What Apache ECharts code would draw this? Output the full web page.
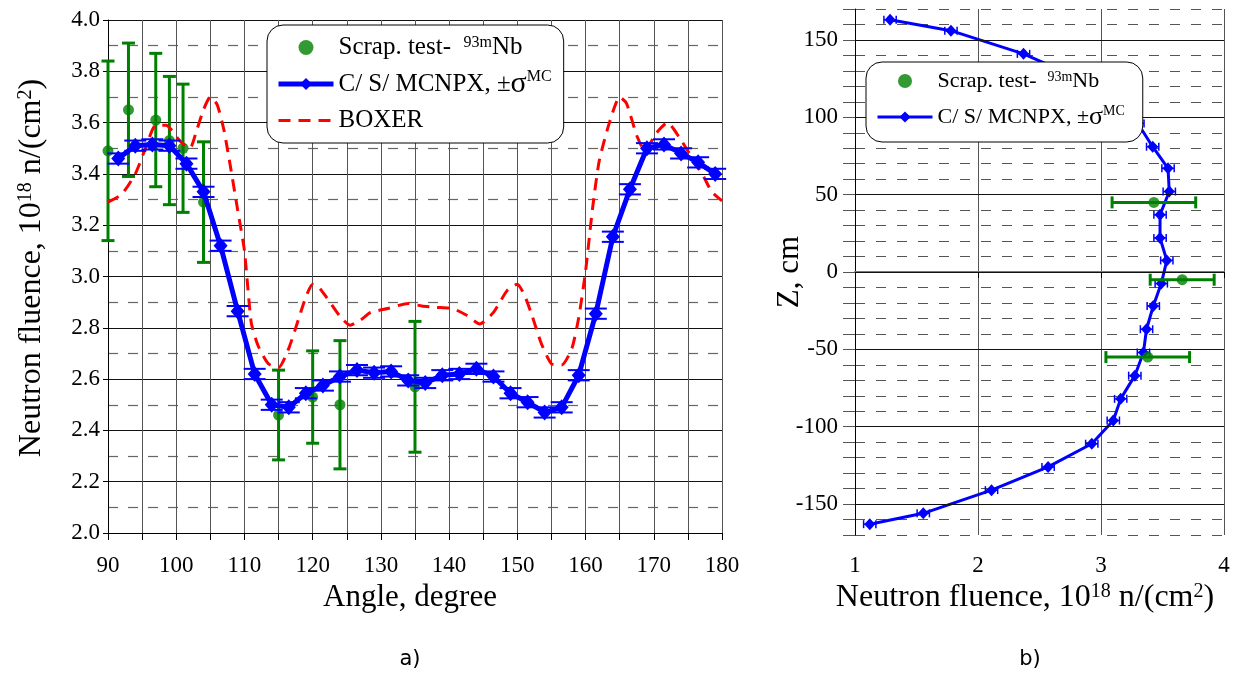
<!DOCTYPE html>
<html lang="en">
<head>
<meta charset="UTF-8">
<title>Neutron fluence</title>
<script src="https://cdn.jsdelivr.net/npm/echarts@6/dist/echarts.min.js"></script>
<style>
  body { margin: 0; background: #fff; }
  #chart { width: 1236px; height: 673px; }
</style>
</head>
<body>
<div id="chart"></div>
<script>
  // a) fluence vs angle
  const mcAngle = [91.5, 94, 96.5, 99, 101.5, 104, 106.5, 109, 111.5, 114, 116.5, 119,
    121.5, 124, 126.5, 129, 131.5, 134, 136.5, 139, 141.5, 144, 146.5, 149,
    151.5, 154, 156.5, 159, 161.5, 164, 166.5, 169, 171.5, 174, 176.5, 179];
  const mcFluence = [3.46, 3.51, 3.515, 3.51, 3.44, 3.33, 3.12, 2.865, 2.62, 2.50, 2.49, 2.545,
    2.575, 2.61, 2.635, 2.625, 2.63, 2.595, 2.585, 2.615, 2.62, 2.64, 2.61, 2.545,
    2.51, 2.47, 2.49, 2.615, 2.855, 3.155, 3.34, 3.50, 3.515, 3.48, 3.445, 3.40];
  const mcErr = 0.02;

  const scrapAngle = [90, 93, 97, 99, 101, 104, 115, 120, 124, 135];
  const scrapFluence = [3.49, 3.65, 3.61, 3.53, 3.50, 3.29, 2.46, 2.53, 2.50, 2.57];
  const scrapErr = [0.35, 0.26, 0.26, 0.25, 0.25, 0.235, 0.175, 0.18, 0.25, 0.255];

  const boxerAngle = [90, 92, 94, 95.5, 97, 98.5, 100.5, 102, 103, 104, 105, 106, 107, 108, 109, 110,
    111, 112, 113.5, 115, 116.5, 118, 119, 120, 121, 122, 124, 125.5, 127, 128.5, 131, 134,
    136, 138, 140.5, 142.5, 144.5, 146.5, 148.5, 150, 151, 152, 153.5, 155, 156.5, 158, 159,
    160, 161, 162, 163.5, 165, 166, 167.5, 168.7, 170.4, 172, 173.8, 175.8, 177.3, 178.5, 180];
  const boxerFluence = [3.29, 3.32, 3.40, 3.50, 3.59, 3.59, 3.53, 3.50, 3.57, 3.65, 3.70, 3.67, 3.57, 3.42, 3.26, 3.10,
    2.82, 2.73, 2.66, 2.645, 2.72, 2.84, 2.92, 2.97, 2.955, 2.92, 2.845, 2.81, 2.83, 2.86, 2.875, 2.895,
    2.885, 2.88, 2.875, 2.85, 2.815, 2.86, 2.945, 2.97, 2.93, 2.86, 2.74, 2.66, 2.655, 2.72, 2.84,
    3.02, 3.26, 3.45, 3.60, 3.70, 3.675, 3.55, 3.49, 3.56, 3.60, 3.54, 3.455, 3.39, 3.33, 3.295];

  // b) fluence vs Z
  const zPos = [163, 156, 141, 126, 111, 96, 81, 67, 52, 37, 22, 7.5,
    -7.5, -22, -37, -52, -67, -82, -96, -111, -126, -141, -156, -163];
  const zFluence = [1.285, 1.78, 2.37, 2.80, 3.10, 3.30, 3.42, 3.545, 3.555, 3.48, 3.48, 3.535,
    3.49, 3.425, 3.37, 3.345, 3.275, 3.16, 3.10, 2.925, 2.57, 2.11, 1.555, 1.12];
  const zErr = 0.05;

  const scrapZ = [45, -5, -55];
  const scrapZFluence = [3.43, 3.66, 3.38];
  const scrapZErr = [0.34, 0.26, 0.34];

  const zMajor = [-150, -100, -50, 0, 50, 100, 150];

  const serif = "'Liberation Serif', 'Times New Roman', serif";
  const names = {
    scrapA: 'Scrap. test-  {sup|93m}Nb',
    scrapB: 'Scrap. test-  {sup|93m}Nb',
    mcA: 'C/ S/ MCNPX, ±{sig|σ}{sup|MC}',
    mcB: 'C/ S/ MCNPX, ±{sig|σ}{sup|MC}',
    boxer: 'BOXER'
  };

  function vErrBar(capW, color, width) {
    return function (params, api) {
      const x = api.value(0), y = api.value(1), e = api.value(2);
      const top = api.coord([x, y + e]);
      const bot = api.coord([x, y - e]);
      const st = { stroke: color, lineWidth: width };
      return {
        type: 'group', children: [
          { type: 'line', shape: { x1: top[0], y1: top[1], x2: bot[0], y2: bot[1] }, style: st },
          { type: 'line', shape: { x1: top[0] - capW / 2, y1: top[1], x2: top[0] + capW / 2, y2: top[1] }, style: st },
          { type: 'line', shape: { x1: bot[0] - capW / 2, y1: bot[1], x2: bot[0] + capW / 2, y2: bot[1] }, style: st }
        ]
      };
    };
  }

  function hErrBar(capH, color, width) {
    return function (params, api) {
      const x = api.value(0), y = api.value(1), e = api.value(2);
      const l = api.coord([x - e, y]);
      const r = api.coord([x + e, y]);
      const st = { stroke: color, lineWidth: width };
      return {
        type: 'group', children: [
          { type: 'line', shape: { x1: l[0], y1: l[1], x2: r[0], y2: r[1] }, style: st },
          { type: 'line', shape: { x1: l[0], y1: l[1] - capH / 2, x2: l[0], y2: l[1] + capH / 2 }, style: st },
          { type: 'line', shape: { x1: r[0], y1: r[1] - capH / 2, x2: r[0], y2: r[1] + capH / 2 }, style: st }
        ]
      };
    };
  }

  function legendRich(size) {
    return {
      sup: { fontFamily: serif, fontSize: Math.round(size * 0.62), color: '#000', verticalAlign: 'top', lineHeight: Math.round(size * 0.62) },
      sig: { fontFamily: serif, fontSize: Math.round(size * 1.2), color: '#000' }
    };
  }

  const axisTitleRich = { sup: { fontFamily: serif, fontSize: 20, fill: '#000', verticalAlign: 'top', lineHeight: 20 } };

  let myChart = echarts.init(document.getElementById('chart'));

  let option = {
    animation: false,
    backgroundColor: '#fff',
    grid: [
      { left: 108, top: 20, width: 614, height: 513 },
      { left: 855, top: 9, width: 369, height: 526 }
    ],
    xAxis: [
      {
        type: 'value', gridIndex: 0, min: 90, max: 180, interval: 10,
        axisLine: { lineStyle: { color: '#000', width: 1 } },
        axisTick: { length: 7, lineStyle: { color: '#000' } },
        minorTick: { show: true, splitNumber: 2, length: 7, lineStyle: { color: '#000' } },
        splitLine: { lineStyle: { color: '#555', width: 1 } },
        minorSplitLine: { show: true, lineStyle: { color: '#555', width: 1 } },
        axisLabel: { fontFamily: serif, fontSize: 23, color: '#000', margin: 21 }
      },
      {
        type: 'value', gridIndex: 1, min: 1, max: 4, interval: 1,
        axisLine: { lineStyle: { color: '#777', width: 2 } },
        axisTick: { length: 6, lineStyle: { color: '#000' } },
        splitLine: { lineStyle: { color: '#555', width: 1 } },
        axisLabel: { fontFamily: serif, fontSize: 23, color: '#000', margin: 19 }
      }
    ],
    yAxis: [
      {
        type: 'value', gridIndex: 0, min: 2, max: 4, interval: 0.2,
        axisLine: { lineStyle: { color: '#000' } },
        axisTick: { length: 5, lineStyle: { color: '#000' } },
        minorTick: { show: false, splitNumber: 2 },
        splitLine: { lineStyle: { color: '#111', width: 1 } },
        minorSplitLine: { show: true, lineStyle: { color: '#666', width: 1.2, type: [10, 10] } },
        axisLabel: {
          fontFamily: serif, fontSize: 23, color: '#000', margin: 8,
          formatter: function (v) { return v.toFixed(1); }
        }
      },
      {
        type: 'value', gridIndex: 1, min: -170, max: 170, interval: 10,
        axisLine: { lineStyle: { color: '#000' } },
        axisTick: { length: 12, lineStyle: { color: '#555' } },
        splitLine: { lineStyle: { color: '#555', width: 1.2, type: [10, 11] } },
        axisLabel: {
          fontFamily: serif, fontSize: 23, color: '#000', margin: 17,
          formatter: function (v) { return v % 50 === 0 ? String(v) : ''; }
        }
      }
    ],
    legend: [
      {
        data: [
          { name: 'scrapA' },
          { name: 'mcA', lineStyle: { width: 5 } },
          { name: 'boxer', itemStyle: { opacity: 0 }, lineStyle: { width: 3, type: [12, 8] } }
        ],
        orient: 'vertical', left: 267, top: 25, z: 20,
        padding: [10, 12, 10, 9], itemGap: 9, itemWidth: 55, itemHeight: 15,
        borderColor: '#000', borderWidth: 1, borderRadius: 16, backgroundColor: '#fff',
        selectedMode: false,
        textStyle: { fontFamily: serif, fontSize: 25, color: '#000', rich: legendRich(25) },
        formatter: function (n) { return names[n]; }
      },
      {
        data: [
          { name: 'scrapB' },
          { name: 'mcB', lineStyle: { width: 3 } }
        ],
        orient: 'vertical', left: 866, top: 62, z: 20,
        padding: [8, 18, 12, 10], itemGap: 12, itemWidth: 55, itemHeight: 14,
        borderColor: '#000', borderWidth: 1, borderRadius: 16, backgroundColor: '#fff',
        selectedMode: false,
        textStyle: { fontFamily: serif, fontSize: 22, color: '#000', rich: legendRich(22) },
        formatter: function (n) { return names[n]; }
      }
    ],
    graphic: [
      {
        type: 'text', x: 32, y: 268, rotation: Math.PI / 2,
        style: {
          text: 'Neutron fluence, 10{sup|18} n/(cm{sup|2})', fontFamily: serif, fontSize: 32, fill: '#000',
          align: 'center', verticalAlign: 'middle', rich: axisTitleRich
        }
      },
      {
        type: 'text', x: 410, y: 598,
        style: { text: 'Angle, degree', fontFamily: serif, fontSize: 31, fill: '#000', align: 'center', verticalAlign: 'middle' }
      },
      {
        type: 'text', x: 1025, y: 598,
        style: {
          text: 'Neutron fluence, 10{sup|18} n/(cm{sup|2})', fontFamily: serif, fontSize: 32, fill: '#000',
          align: 'center', verticalAlign: 'middle', rich: axisTitleRich
        }
      },
      {
        type: 'text', x: 790, y: 272, rotation: Math.PI / 2,
        style: { text: 'Z, cm', fontFamily: serif, fontSize: 31, fill: '#000', align: 'center', verticalAlign: 'middle' }
      },
      {
        type: 'text', x: 410, y: 660,
        style: { text: 'a)', fontFamily: "'DejaVu Sans', sans-serif", fontSize: 21, fill: '#000', align: 'center', verticalAlign: 'middle' }
      },
      {
        type: 'text', x: 1030, y: 660,
        style: { text: 'b)', fontFamily: "'DejaVu Sans', sans-serif", fontSize: 21, fill: '#000', align: 'center', verticalAlign: 'middle' }
      }
    ],
    series: [
      // a)
      {
        type: 'custom', xAxisIndex: 0, yAxisIndex: 0, z: 2, silent: true,
        renderItem: vErrBar(13, '#008000', 3),
        encode: { x: 0, y: 1 },
        data: scrapAngle.map((a, i) => [a, scrapFluence[i], scrapErr[i]])
      },
      {
        name: 'scrapA', type: 'scatter', xAxisIndex: 0, yAxisIndex: 0, z: 3,
        symbol: 'circle', symbolSize: 11, itemStyle: { color: '#008000' },
        data: scrapAngle.map((a, i) => [a, scrapFluence[i]])
      },
      {
        name: 'boxer', type: 'line', xAxisIndex: 0, yAxisIndex: 0, z: 4,
        showSymbol: false, symbol: 'none', smooth: 0.2,
        lineStyle: { color: '#ff0000', width: 3, type: [12, 8] }, itemStyle: { color: '#ff0000' },
        data: boxerAngle.map((a, i) => [a, boxerFluence[i]])
      },
      {
        name: 'mcA', type: 'line', xAxisIndex: 0, yAxisIndex: 0, z: 5,
        symbol: 'diamond', symbolSize: [14, 16],
        lineStyle: { color: '#0000ff', width: 5 }, itemStyle: { color: '#0000ff' },
        data: mcAngle.map((a, i) => [a, mcFluence[i]])
      },
      {
        type: 'custom', xAxisIndex: 0, yAxisIndex: 0, z: 6, silent: true,
        renderItem: vErrBar(22, '#0000ff', 2),
        encode: { x: 0, y: 1 },
        data: mcAngle.map((a, i) => [a, mcFluence[i], mcErr])
      },
      // b)
      {
        type: 'line', xAxisIndex: 1, yAxisIndex: 1, z: 1, silent: true, data: [],
        markLine: {
          silent: true, symbol: 'none', label: { show: false },
          lineStyle: { color: '#111', width: 1, type: 'solid' },
          data: zMajor.map(v => ({ yAxis: v }))
        }
      },
      {
        name: 'mcB', type: 'line', xAxisIndex: 1, yAxisIndex: 1, z: 4,
        symbol: 'diamond', symbolSize: [11, 12],
        lineStyle: { color: '#0000ff', width: 3 }, itemStyle: { color: '#0000ff' },
        data: zPos.map((z, i) => [zFluence[i], z])
      },
      {
        type: 'custom', xAxisIndex: 1, yAxisIndex: 1, z: 5, silent: true,
        renderItem: hErrBar(8, '#0000ff', 1.5),
        encode: { x: 0, y: 1 },
        data: zPos.map((z, i) => [zFluence[i], z, zErr])
      },
      {
        type: 'custom', xAxisIndex: 1, yAxisIndex: 1, z: 6, silent: true,
        renderItem: hErrBar(12, '#008000', 3),
        encode: { x: 0, y: 1 },
        data: scrapZ.map((z, i) => [scrapZFluence[i], z, scrapZErr[i]])
      },
      {
        name: 'scrapB', type: 'scatter', xAxisIndex: 1, yAxisIndex: 1, z: 7,
        symbol: 'circle', symbolSize: 11, itemStyle: { color: '#008000' },
        data: scrapZ.map((z, i) => [scrapZFluence[i], z])
      }
    ]
  };

  myChart.setOption(option);
</script>
</body>
</html>
